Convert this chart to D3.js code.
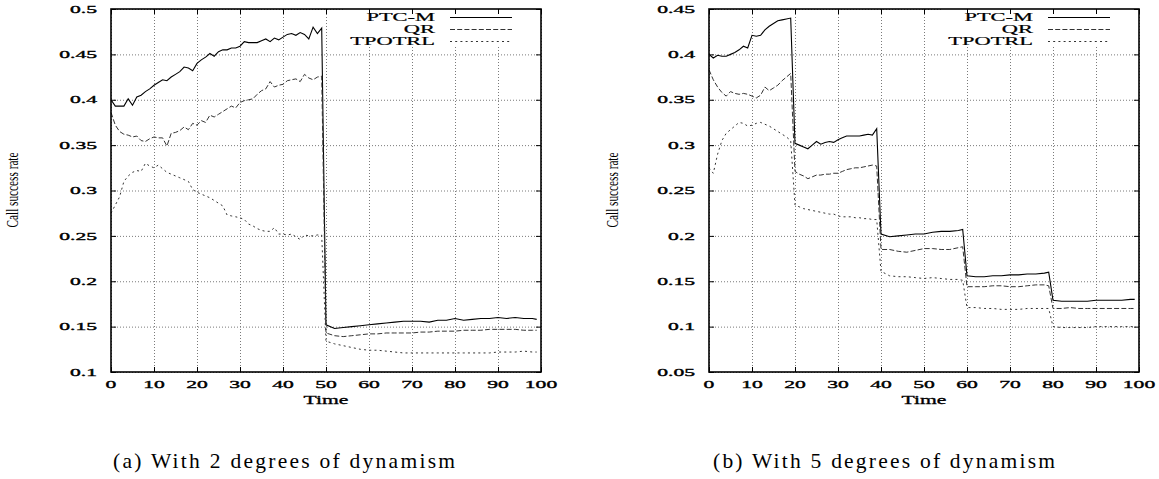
<!DOCTYPE html>
<html>
<head>
<meta charset="utf-8">
<script src="https://cdn.jsdelivr.net/npm/d3@7"></script>
<style>
  html, body { margin: 0; padding: 0; background: #fff; }
  svg { display: block; }
  text { font-family: "Liberation Serif", "DejaVu Serif", serif; fill: #000; }
</style>
</head>
<body>
<svg id="chart" width="1159" height="479"></svg>
<script>
// ---------------- DATA ----------------
const seriesNames = ["PTC-M", "QR", "TPOTRL"];
const xTickValues = [0, 10, 20, 30, 40, 50, 60, 70, 80, 90, 100];
const yTicksA = [0.1, 0.15, 0.2, 0.25, 0.3, 0.35, 0.4, 0.45, 0.5];
const yTicksB = [0.05, 0.1, 0.15, 0.2, 0.25, 0.3, 0.35, 0.4, 0.45];
const yTickLabelsA = ["0.1", "0.15", "0.2", "0.25", "0.3", "0.35", "0.4", "0.45", "0.5"];
const yTickLabelsB = ["0.05", "0.1", "0.15", "0.2", "0.25", "0.3", "0.35", "0.4", "0.45"];
const captions = ["(a) With 2 degrees of dynamism", "(b) With 5 degrees of dynamism"];
const xLabel = "Time";
const yLabel = "Call success rate";

// Panel (a): 2 degrees of dynamism
const timesA = [0,1,2,3,4,5,6,7,8,9,10,11,12,13,14,15,16,17,18,19,20,21,22,23,24,25,26,27,28,29,
  30,31,32,33,34,35,36,37,38,39,40,41,42,43,44,45,46,47,48,49,
  50,52,54,56,58,60,62,64,66,68,70,72,74,76,78,80,82,84,86,88,90,92,94,96,98,99];
const ptcA = [0.400,0.393,0.393,0.393,0.401,0.394,0.403,0.405,0.409,0.412,0.416,0.419,0.422,0.421,0.425,0.428,0.431,0.436,0.435,0.432,
  0.440,0.444,0.447,0.451,0.448,0.453,0.455,0.455,0.457,0.457,0.459,0.464,0.463,0.463,0.463,0.465,0.467,0.464,0.468,0.466,
  0.469,0.472,0.473,0.471,0.474,0.472,0.467,0.480,0.473,0.479,
  0.152,0.148,0.149,0.150,0.151,0.152,0.153,0.154,0.155,0.156,0.156,0.156,0.155,0.157,0.157,0.159,0.157,0.158,0.159,0.159,0.160,0.159,0.160,0.159,0.159,0.158];
const qrA = [0.386,0.372,0.365,0.362,0.361,0.359,0.360,0.355,0.354,0.357,0.359,0.358,0.358,0.349,0.363,0.364,0.366,0.370,0.367,0.374,
  0.372,0.377,0.375,0.383,0.381,0.384,0.387,0.390,0.393,0.391,0.397,0.399,0.400,0.401,0.406,0.410,0.412,0.420,0.414,0.416,
  0.417,0.421,0.422,0.423,0.420,0.428,0.424,0.422,0.425,0.426,
  0.143,0.140,0.139,0.140,0.141,0.142,0.142,0.143,0.143,0.143,0.143,0.144,0.144,0.145,0.145,0.145,0.146,0.146,0.146,0.147,0.147,0.147,0.147,0.146,0.146,0.146];
const tpoA = [0.275,0.284,0.293,0.310,0.316,0.320,0.322,0.321,0.330,0.327,0.325,0.328,0.324,0.320,0.318,0.316,0.314,0.312,0.310,0.301,
  0.298,0.296,0.294,0.292,0.289,0.286,0.283,0.273,0.272,0.271,0.270,0.268,0.263,0.261,0.258,0.256,0.255,0.255,0.259,0.252,
  0.252,0.251,0.252,0.249,0.246,0.251,0.250,0.250,0.251,0.251,
  0.134,0.131,0.129,0.127,0.125,0.124,0.124,0.123,0.122,0.121,0.121,0.121,0.121,0.121,0.121,0.121,0.121,0.121,0.121,0.121,0.122,0.122,0.122,0.123,0.122,0.122];

// Panel (b): 5 degrees of dynamism
const timesB = [0,1,2,3,4,5,6,7,8,9,10,11,12,13,14,15,16,17,18,19,20,21,22,23,24,25,26,27,28,29,
  30,31,32,33,34,35,36,37,38,39,
  40,42,44,46,48,50,52,54,56,58,59,
  60,62,64,66,68,70,72,74,76,78,79,
  80,82,84,86,88,90,92,94,96,98,99];
const ptcB = [0.400,0.396,0.399,0.398,0.398,0.400,0.402,0.405,0.409,0.407,0.421,0.420,0.421,0.427,0.431,0.434,0.437,0.438,0.439,0.440,
  0.302,0.300,0.298,0.296,0.300,0.304,0.301,0.303,0.304,0.303,0.306,0.308,0.310,0.310,0.310,0.310,0.311,0.312,0.311,0.318,
  0.202,0.199,0.200,0.201,0.202,0.202,0.204,0.205,0.205,0.206,0.207,
  0.156,0.155,0.155,0.156,0.156,0.157,0.157,0.158,0.158,0.159,0.160,
  0.129,0.128,0.128,0.128,0.128,0.129,0.129,0.129,0.129,0.130,0.130];
const qrB = [0.383,0.372,0.364,0.358,0.354,0.359,0.357,0.356,0.357,0.356,0.354,0.352,0.355,0.364,0.360,0.363,0.366,0.371,0.375,0.379,
  0.271,0.268,0.266,0.263,0.265,0.267,0.267,0.268,0.268,0.269,0.269,0.271,0.273,0.274,0.275,0.275,0.276,0.277,0.278,0.277,
  0.185,0.185,0.183,0.182,0.184,0.186,0.186,0.185,0.185,0.187,0.188,
  0.144,0.144,0.144,0.145,0.145,0.144,0.144,0.145,0.146,0.146,0.145,
  0.120,0.120,0.121,0.120,0.120,0.120,0.120,0.120,0.120,0.120,0.120];
const tpoB = [0.275,0.269,0.290,0.305,0.313,0.317,0.321,0.325,0.324,0.321,0.322,0.324,0.325,0.323,0.321,0.318,0.315,0.312,0.309,0.305,
  0.234,0.232,0.230,0.229,0.228,0.227,0.226,0.225,0.224,0.224,0.222,0.221,0.221,0.221,0.220,0.220,0.219,0.219,0.218,0.218,
  0.161,0.156,0.155,0.155,0.154,0.153,0.154,0.153,0.152,0.152,0.151,
  0.121,0.121,0.120,0.120,0.119,0.119,0.119,0.120,0.120,0.120,0.120,
  0.100,0.099,0.099,0.099,0.099,0.100,0.100,0.100,0.100,0.100,0.100];

// ---------------- DRAWING ----------------
const svg = d3.select("#chart");
const STRETCH = 2.0;   // original figure is horizontally stretched

function stretchText(node, factor, anchor) {
  const w = node.getComputedTextLength();
  const tw = w * factor;
  node.setAttribute("textLength", tw);
  node.setAttribute("lengthAdjust", "spacingAndGlyphs");
  const x = +node.getAttribute("x") || 0;
  node.setAttribute("text-anchor", "start");
  if (anchor === "end") node.setAttribute("x", x - tw);
  else if (anchor === "middle") node.setAttribute("x", x - tw / 2);
}

const lineStyles = [
  { stroke: "#000", dash: null, width: 1.1 },
  { stroke: "#333", dash: "5,2.2", width: 1 },
  { stroke: "#333", dash: "2,3.2", width: 1 }
];

const panels = [
  { left: 111, right: 541, top: 9, bottom: 372, yDomain: [0.1, 0.5], yTicks: yTicksA, yLabels: yTickLabelsA,
    times: timesA, series: [ptcA, qrA, tpoA], caption: captions[0], capX: 284, yLabX: 18 },
  { left: 709, right: 1139, top: 9, bottom: 372, yDomain: [0.05, 0.45], yTicks: yTicksB, yLabels: yTickLabelsB,
    times: timesB, series: [ptcB, qrB, tpoB], caption: captions[1], capX: 884, yLabX: 618 }
];

panels.forEach(p => {
  const x = d3.scaleLinear().domain([0, 100]).range([p.left, p.right]);
  const y = d3.scaleLinear().domain(p.yDomain).range([p.bottom, p.top]);
  const g = svg.append("g");
  const W = p.right - p.left, H = p.bottom - p.top;

  // grid via axes
  const gridX = g.append("g").attr("transform", `translate(0,${p.bottom})`)
    .call(d3.axisBottom(x).tickValues(xTickValues).tickSize(-H).tickFormat(""));
  const gridY = g.append("g").attr("transform", `translate(${p.left},0)`)
    .call(d3.axisLeft(y).tickValues(p.yTicks).tickSize(-W).tickFormat(""));
  [gridX, gridY].forEach(gg => {
    gg.select(".domain").remove();
    gg.selectAll("line").attr("stroke", "#7a7a7a").attr("stroke-width", 1).attr("stroke-dasharray", "1,2");
  });

  // legend background (hides grid under the key)
  g.append("rect").attr("x", p.right - 198).attr("y", p.top).attr("width", 198).attr("height", 38).attr("fill", "#fff");

  // data lines
  p.series.forEach((vals, i) => {
    const line = d3.line().x((d, k) => x(p.times[k])).y(d => y(d));
    const st = lineStyles[i];
    g.append("path").datum(vals).attr("d", line).attr("fill", "none")
      .attr("stroke", st.stroke).attr("stroke-width", st.width)
      .attr("stroke-dasharray", st.dash).attr("stroke-linejoin", "miter");
  });

  // inward ticks on all four sides
  const tb = g.append("g").attr("transform", `translate(0,${p.bottom})`).call(d3.axisBottom(x).tickValues(xTickValues).tickSize(-5).tickFormat(""));
  const tt = g.append("g").attr("transform", `translate(0,${p.top})`).call(d3.axisTop(x).tickValues(xTickValues).tickSize(-5).tickFormat(""));
  const tl = g.append("g").attr("transform", `translate(${p.left},0)`).call(d3.axisLeft(y).tickValues(p.yTicks).tickSize(-5).tickFormat(""));
  const tr = g.append("g").attr("transform", `translate(${p.right},0)`).call(d3.axisRight(y).tickValues(p.yTicks).tickSize(-5).tickFormat(""));
  [tb, tt, tl, tr].forEach(a => { a.select(".domain").remove(); a.selectAll("line").attr("stroke", "#000").attr("stroke-width", 1); });

  // frame
  g.append("rect").attr("x", p.left).attr("y", p.top).attr("width", W).attr("height", H)
    .attr("fill", "none").attr("stroke", "#000").attr("stroke-width", 1.6);

  // tick labels
  g.selectAll(".xl").data(xTickValues).enter().append("text")
    .attr("x", d => x(d)).attr("y", p.bottom + 16).attr("font-size", 10.8)
    .attr("stroke", "#000").attr("stroke-width", 0.35)
    .text(d => String(d)).each(function () { stretchText(this, STRETCH, "middle"); });
  g.selectAll(".yl").data(p.yTicks).enter().append("text")
    .attr("x", p.left - 14).attr("y", d => y(d) + 3.7).attr("font-size", 10.8)
    .attr("stroke", "#000").attr("stroke-width", 0.35)
    .text((d, i) => p.yLabels[i]).each(function () { stretchText(this, STRETCH, "end"); });

  // axis titles
  g.append("text").attr("x", (p.left + p.right) / 2).attr("y", p.bottom + 32).attr("font-size", 12)
    .attr("stroke", "#000").attr("stroke-width", 0.3)
    .text(xLabel).each(function () { stretchText(this, 1.8, "middle"); });
  g.append("text").attr("transform", `translate(${p.yLabX},190) rotate(-90)`)
    .attr("x", -37.5).attr("y", 0).attr("font-size", 17)
    .attr("textLength", 75).attr("lengthAdjust", "spacingAndGlyphs").text(yLabel);

  // legend
  seriesNames.forEach((name, i) => {
    const by = p.top + 12 + i * 12;
    g.append("text").attr("x", p.right - 106).attr("y", by).attr("font-size", 11.5)
      .attr("stroke", "#000").attr("stroke-width", 0.2)
      .text(name).each(function () { stretchText(this, 1.95, "end"); });
    const st = lineStyles[i];
    g.append("line").attr("x1", p.right - 91).attr("x2", p.right - 29)
      .attr("y1", by - 3.5).attr("y2", by - 3.5)
      .attr("stroke", st.stroke).attr("stroke-width", st.width).attr("stroke-dasharray", st.dash);
  });

  // caption
  svg.append("text").attr("x", p.capX - 171).attr("y", 468).attr("font-size", 21.5)
    .attr("textLength", 342).attr("lengthAdjust", "spacing").text(p.caption);
});
</script>
</body>
</html>
